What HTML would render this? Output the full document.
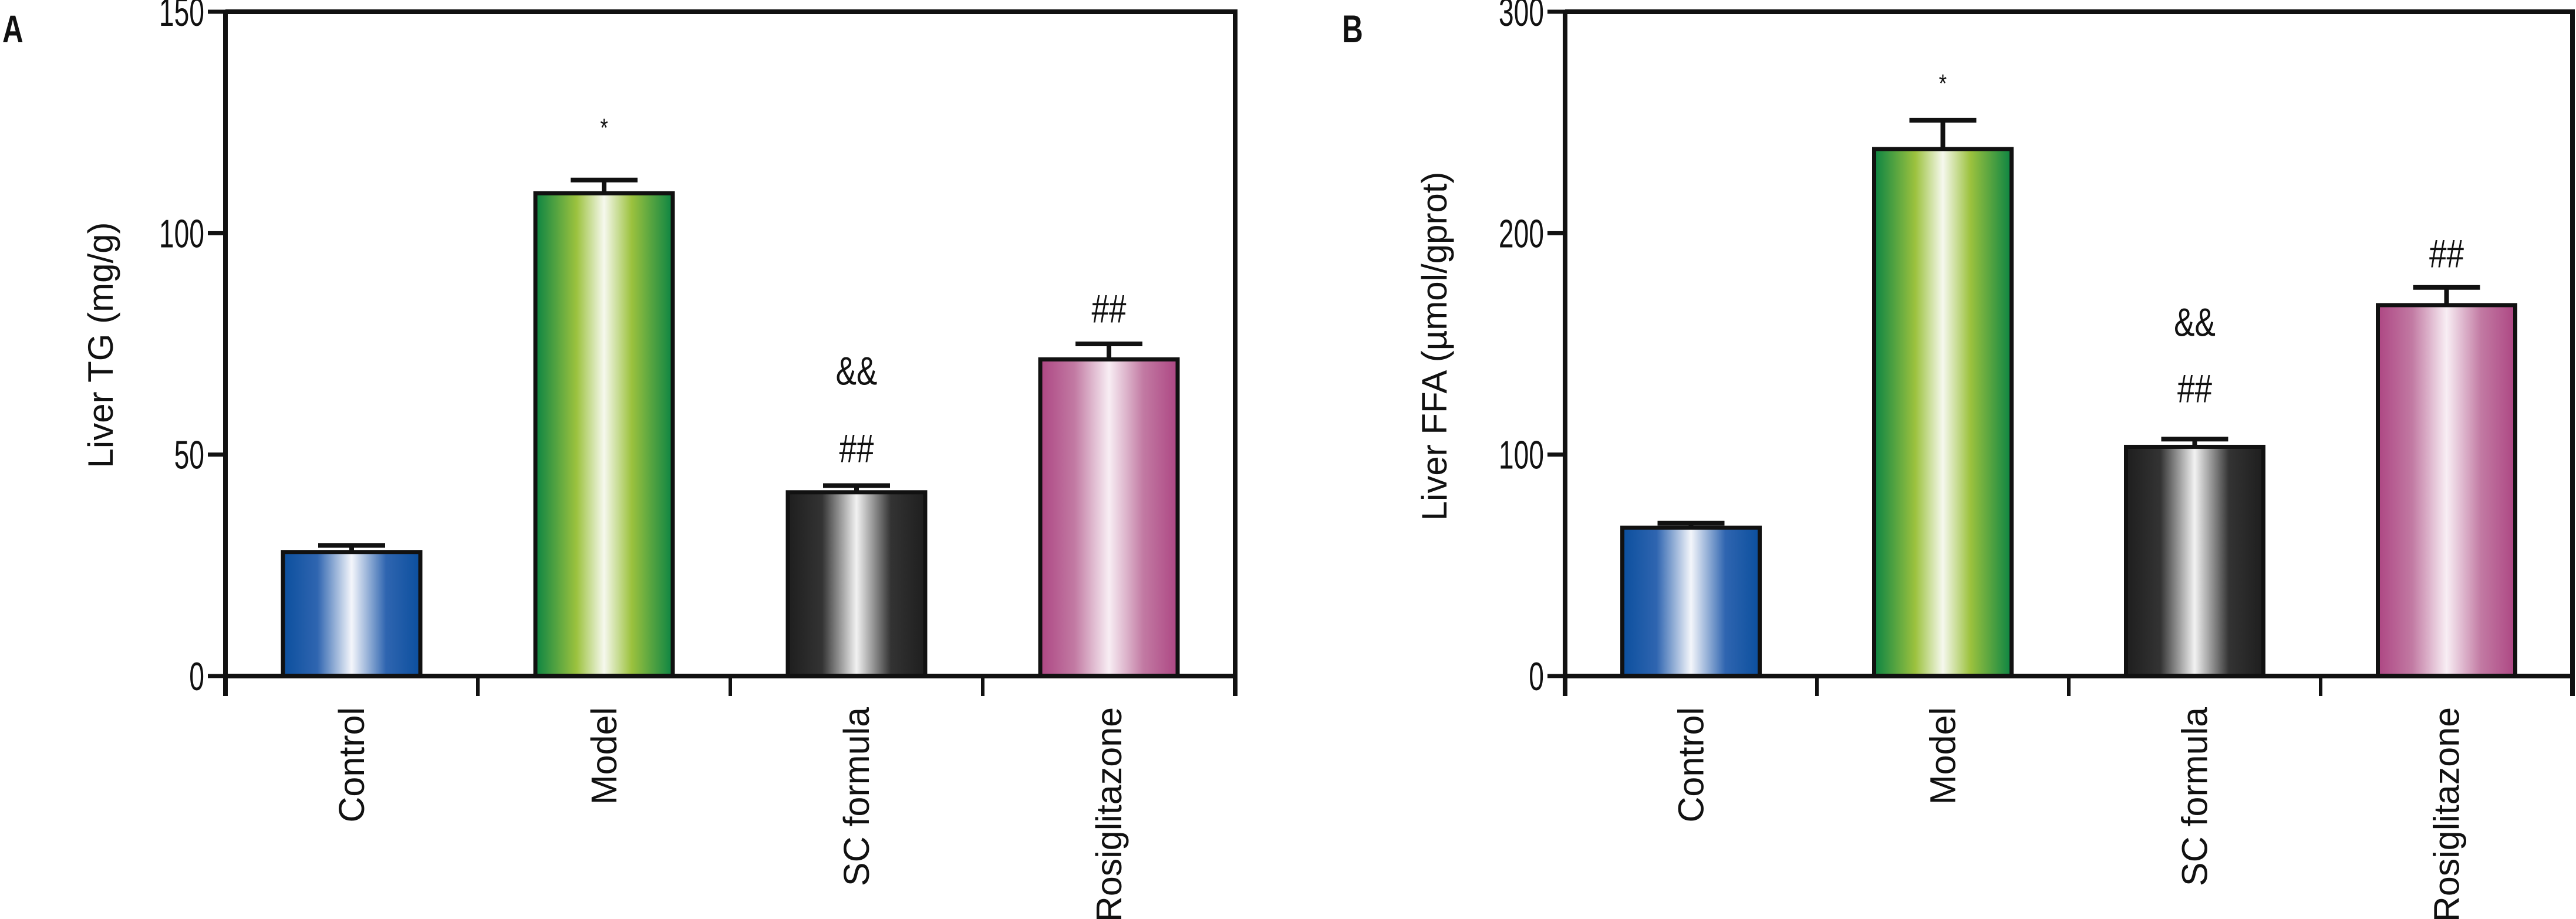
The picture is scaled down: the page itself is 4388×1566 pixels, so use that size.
<!DOCTYPE html>
<html><head><meta charset="utf-8"><style>
html,body{margin:0;padding:0;background:#fff;}
svg{display:block;font-family:"Liberation Sans",sans-serif;}
</style></head><body>
<svg id="chart" width="4388" height="1566" viewBox="0 0 4388 1566" xmlns="http://www.w3.org/2000/svg">
<defs>
<linearGradient id="gBlue" x1="0" x2="1" y1="0" y2="0"><stop offset="0" stop-color="#0b4f9e"/><stop offset="0.25" stop-color="#2f65b0"/><stop offset="0.5" stop-color="#f4f6fb"/><stop offset="0.75" stop-color="#2f65b0"/><stop offset="1" stop-color="#0b4f9e"/></linearGradient>
<linearGradient id="gGreen" x1="0" x2="1" y1="0" y2="0"><stop offset="0" stop-color="#0b8443"/><stop offset="0.3" stop-color="#9cc23e"/><stop offset="0.5" stop-color="#f6f8ee"/><stop offset="0.7" stop-color="#9cc23e"/><stop offset="1" stop-color="#0b8443"/></linearGradient>
<linearGradient id="gBlack" x1="0" x2="1" y1="0" y2="0"><stop offset="0" stop-color="#1e1e1e"/><stop offset="0.25" stop-color="#333"/><stop offset="0.5" stop-color="#f2f2f2"/><stop offset="0.75" stop-color="#333"/><stop offset="1" stop-color="#1e1e1e"/></linearGradient>
<linearGradient id="gPink" x1="0" x2="1" y1="0" y2="0"><stop offset="0" stop-color="#ad4683"/><stop offset="0.25" stop-color="#c27aa3"/><stop offset="0.5" stop-color="#f8eef4"/><stop offset="0.75" stop-color="#c27aa3"/><stop offset="1" stop-color="#ad4683"/></linearGradient>
</defs>
</svg>
<script>
const categories = ["Control","Model","SC formula","Rosiglitazone"];
const valuesA = [28, 109, 41.5, 71.5];
const errorsA = [1.5, 3, 1.5, 3.5];
const valuesB = [67, 238, 103.5, 167.5];
const errorsB = [2, 13, 3.5, 8];
const ticksA = [0, 50, 100, 150];
const ticksB = [0, 100, 200, 300];
const annotA = [[], [["*",125]], [["&&",69],["##",51.5]], [["##",83]]];
const annotB = [[], [["*",270]], [["&&",160],["##",130]], [["##",191]]];
const fills = ["url(#gBlue)","url(#gGreen)","url(#gBlack)","url(#gPink)"];

const NS = "http://www.w3.org/2000/svg";
const svg = document.getElementById('chart');
function mk(tag, attrs, parent, text){
  const e = document.createElementNS(NS, tag);
  for (const k in attrs) e.setAttribute(k, attrs[k]);
  if (text !== undefined) e.textContent = text;
  (parent || svg).appendChild(e);
  return e;
}

function panel(p){
  const g = mk('g', {});
  
  
  const y0 = 1152, yTop = 20;
  const ys = v => y0 - (v / p.max) * (y0 - yTop);
  const catW = (p.right - p.left) / categories.length;
  const xc = i => p.left + catW * (i + 0.5);
  const bw = 234;
  categories.forEach((c, i) => {
    const v = p.values[i], e = p.errors[i];
    const x = xc(i) - bw / 2;
    const eb = mk('path', {d:`M${xc(i)} ${ys(v)} V${ys(v+e)} M${xc(i)-57} ${ys(v+e)} H${xc(i)+57}`, stroke:'#111', 'stroke-width':8, fill:'none'}, g);
    
    
    const r = mk('rect', {x:x, y:ys(v), width:bw, height:y0 - ys(v), fill:fills[i], stroke:'#111', 'stroke-width':7}, g);
    
    
    p.annot[i].forEach(a => {
      const t = mk('text', {x:xc(i), y:ys(a[1]) + 24, 'text-anchor':'middle', 'font-size': a[0]==='*'?44:68, fill:'#111', transform:`translate(${xc(i)},0) scale(0.78,1) translate(${-xc(i)},0)`}, g, a[0]);
      
      
    });
    const lx = xc(i) + 21;
    const lbl = mk('text', {x:lx, y:1205, 'text-anchor':'end', 'font-size':61, fill:'#111', transform:`rotate(-90 ${lx} 1205)`}, g, c);
    
    
  });
  const fr = mk('path', {d:`M${p.left} ${yTop} H${p.right} V1186 M${p.left} ${yTop} V1186 M${p.left} ${y0} H${p.right}`, stroke:'#111', 'stroke-width':8, fill:'none'}, g);
  
  
  for (let i = 1; i < categories.length; i++){
    const x = p.left + catW * i;
    const tk = mk('line', {x1:x, x2:x, y1:y0, y2:1186, stroke:'#111', 'stroke-width':6}, g);
    
    
  }
  p.ticks.forEach(t => {
    const y = ys(t);
    const tl = mk('line', {x1:p.left - 30, x2:p.left, y1:y, y2:y, stroke:'#111', 'stroke-width':7}, g);
    
    
    const tx = p.left - 36;
    const tt = mk('text', {x:tx, y:y + 24, 'text-anchor':'end', 'font-size':68, fill:'#111', transform:`translate(${tx},0) scale(0.68,1) translate(${-tx},0)`}, g, String(t));
    
    
  });
  const yt = mk('text', {x:p.titleX, y:p.titleY, 'text-anchor':'middle', 'font-size':60, fill:'#111', transform:`rotate(-90 ${p.titleX} ${p.titleY})`}, g, p.title);
  
  
  const pl = mk('text', {x:p.letterX, y:72, 'font-size':66, 'font-weight':'bold', fill:'#111', transform:`translate(${p.letterX},0) scale(0.75,1) translate(${-p.letterX},0)`}, g, p.letter);
  
  
}

panel({name:'panel-a-liver-tg', left:384, right:2104, max:150, values:valuesA, errors:errorsA, ticks:ticksA, annot:annotA, title:'Liver TG (mg/g)', titleX:192, titleY:588, letter:'A', letterX:4});
panel({name:'panel-b-liver-ffa', left:2666, right:4382, max:300, values:valuesB, errors:errorsB, ticks:ticksB, annot:annotB, title:'Liver FFA (µmol/gprot)', titleX:2464, titleY:590, letter:'B', letterX:2286});
</script>
</body></html>
